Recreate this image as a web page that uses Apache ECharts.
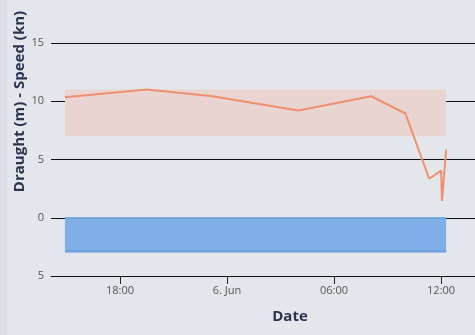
<!DOCTYPE html>
<html><head><meta charset="utf-8">
<script src="https://cdn.jsdelivr.net/npm/echarts@6/dist/echarts.min.js"></script>
<style>html,body{margin:0;padding:0;background:#e3e6ea;}#c{width:475px;height:335px;}</style>
</head><body><div id="c"></div>
<script>
// Speed (kn) readings
const speedTimes = ['06-05 14:55','06-05 19:30','06-05 23:05','06-06 04:00','06-06 08:05','06-06 10:00','06-06 11:20','06-06 12:00','06-06 12:03','06-06 12:17'];
const speedValues = [10.35, 11.0, 10.45, 9.2, 10.43, 8.95, 3.35, 4.05, 1.45, 5.85];
// Speed band (kn)
const bandLow = 7, bandHigh = 11;
// Draught (m)
const draughtTimes = ['06-05 14:55','06-06 12:17'];
const draughtValues = [2.9, 2.9];
// Axis
const xRange = ['06-05 14:08','06-06 13:54'];
const xTickTimes = ['06-05 18:00','06-06 00:00','06-06 06:00','06-06 12:00'];
const xTickLabels = ['18:00','6. Jun','06:00','12:00'];
const yMin = -5, yMax = 15, yStep = 5;

// hours relative to 6 Jun 00:00
function t(s){const [md,hm]=s.split(' ');const [mo,d]=md.split('-').map(Number);const [h,m]=hm.split(':').map(Number);return (d-6)*24+h+m/60;}
const tickTs = xTickTimes.map(t);
function lbl(v){for(let i=0;i<tickTs.length;i++){if(Math.abs(tickTs[i]-v)<1e-6)return xTickLabels[i];}return '';}

const chart = echarts.init(document.getElementById('c'), null, {renderer:'canvas'});
const font = '"Open Sans", sans-serif';
chart.setOption({
  backgroundColor:'#e3e6ea',
  animation:false,
  graphic:[{type:'rect',shape:{x:0,y:0,width:7,height:335},style:{fill:'#dadee4'},silent:true}],
  grid:{left:51,right:0,top:43,bottom:59,containLabel:false,outerBoundsMode:'none'},
  xAxis:{
    type:'value', min:t(xRange[0]), max:t(xRange[1]),
    name:'Date', nameLocation:'middle', nameGap:33,
    nameTextStyle:{fontFamily:font,fontWeight:'bold',fontSize:15,color:'#2b3350',padding:[0,0,0,54]},
    axisLine:{show:true,onZero:false,lineStyle:{color:'#111',width:1}},
    axisTick:{show:true,customValues:tickTs,length:8,lineStyle:{color:'#222',width:1}},
    axisLabel:{customValues:tickTs,formatter:v=>lbl(v),fontFamily:font,fontSize:11,color:'#555',margin:9},
    splitLine:{show:false}
  },
  yAxis:{
    type:'value', min:yMin, max:yMax, interval:yStep,
    name:'Draught (m) - Speed (kn)', nameLocation:'middle', nameGap:24, nameRotate:90, nameMoveOverlap:false,
    nameTextStyle:{fontFamily:font,fontWeight:'bold',fontSize:15,color:'#2b3350',padding:[0,0,0,116]},
    axisLine:{show:false}, axisTick:{show:false},
    axisLabel:{formatter:v=>String(Math.abs(v)),fontFamily:font,fontSize:11,color:'#555',margin:7},
    splitLine:{show:true,lineStyle:{color:'#111',width:1}}
  },
  series:[
    {
      type:'line', name:'Draught', symbol:'none',
      data:draughtTimes.map((s,i)=>[t(s),-draughtValues[i]]),
      lineStyle:{color:'#6a9cdf',width:2},
      areaStyle:{color:'#80aee6',opacity:1,origin:0},
      markLine:{silent:true,symbol:'none',label:{show:false},lineStyle:{color:'#6a9cdf',width:1.5,type:'solid'},
        data:[[{coord:[t(draughtTimes[0]),0]},{coord:[t(draughtTimes[draughtTimes.length-1]),0]}]]},
      z:2
    },
    {
      type:'line', name:'Speed', symbol:'none',
      data:speedTimes.map((s,i)=>[t(s),speedValues[i]]),
      lineStyle:{color:'#ee9070',width:2},
      markArea:{silent:true,itemStyle:{color:'#e9d4d1'},
        data:[[{coord:[t(speedTimes[0]),bandLow]},{coord:[t(speedTimes[speedTimes.length-1]),bandHigh]}]]},
      z:3
    }
  ]
});
</script></body></html>
